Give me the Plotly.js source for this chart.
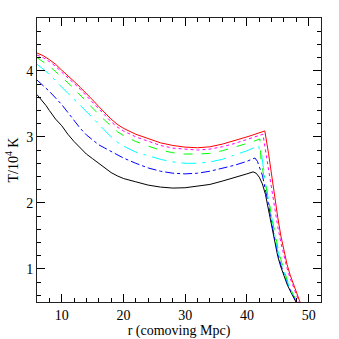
<!DOCTYPE html>
<html><head><meta charset="utf-8">
<script src="https://cdn.plot.ly/plotly-3.0.1.min.js"></script>
<style>body{margin:0;background:#fff}#c{width:339px;height:339px}</style>
</head><body><div id="c"></div>
<script>
// radius (comoving Mpc)
const rRed = [6,7,8,9,10,11,12,13,14,15,16,17,18,19,20,22,24,26,28,30,32,34,36,38,40,41,42,42.9,43.5,44,44.5,45,45.5,46,46.5,47,47.5,48,48.6];
const tRed = [4.27,4.23,4.17,4.10,4.01,3.93,3.84,3.75,3.66,3.56,3.46,3.36,3.27,3.19,3.13,3.04,2.97,2.91,2.87,2.845,2.835,2.85,2.89,2.94,3.00,3.03,3.06,3.09,2.75,2.40,2.08,1.78,1.50,1.26,1.07,0.91,0.78,0.65,0.50];

const rMag = [6,7,8,9,10,11,12,13,14,15,16,17,18,19,20,22,24,26,28,30,32,34,36,38,40,41,42,42.6,43,43.5,44,44.5,45,45.5,46,46.5,47,47.5,48,48.45];
const tMag = [4.24,4.20,4.14,4.07,3.98,3.90,3.81,3.72,3.62,3.52,3.42,3.32,3.23,3.15,3.09,3.00,2.93,2.87,2.83,2.81,2.80,2.815,2.85,2.90,2.96,2.99,3.02,3.04,2.80,2.50,2.20,1.92,1.64,1.40,1.18,1.01,0.86,0.73,0.61,0.50];

const rGrn = [6,7,8,9,10,11,12,13,14,15,16,17,18,19,20,22,24,26,28,30,32,34,36,38,40,41,42.1,42.3,43,43.5,44,44.5,45,45.5,46,46.5,47,47.5,48.3];
const tGrn = [4.20,4.14,4.07,3.99,3.91,3.82,3.73,3.63,3.54,3.44,3.34,3.25,3.16,3.08,3.02,2.93,2.86,2.80,2.76,2.74,2.74,2.75,2.79,2.84,2.90,2.93,2.97,2.62,2.32,2.06,1.80,1.55,1.33,1.14,0.98,0.84,0.72,0.61,0.50];

const rCyn = [6,7,8,9,10,11,12,13,14,15,16,17,18,19,20,22,24,26,28,30,32,34,36,38,40,41,41.9,42.1,42.4,43,43.5,44,44.5,45,45.5,46,46.5,47,47.5,48.15];
const tCyn = [4.10,4.03,3.95,3.85,3.75,3.66,3.57,3.48,3.39,3.29,3.19,3.09,3.00,2.92,2.86,2.77,2.71,2.66,2.62,2.60,2.60,2.62,2.66,2.72,2.79,2.83,2.87,2.76,2.72,2.30,2.03,1.76,1.50,1.28,1.10,0.95,0.82,0.70,0.60,0.50];

const rBlu = [6,7,8,9,10,11,12,13,14,15,16,17,18,19,20,22,24,26,28,30,32,34,36,38,40,41.3,41.7,42,42.5,43,43.5,44,44.5,45,45.5,46,46.5,47,47.5,48];
const tBlu = [3.86,3.78,3.69,3.59,3.49,3.37,3.25,3.13,3.03,2.95,2.88,2.83,2.78,2.73,2.68,2.60,2.53,2.48,2.45,2.44,2.45,2.48,2.52,2.57,2.63,2.68,2.63,2.55,2.42,2.20,1.98,1.70,1.44,1.23,1.06,0.92,0.80,0.69,0.59,0.50];

const rBlk = [6,7,7.5,8,9,10,11,12,13,14,15,16,17,18,19,20,22,24,26,28,30,32,34,36,38,40,41,41.5,42,42.5,43,43.5,44,44.5,45,45.5,46,46.5,47,47.5,48];
const tBlk = [3.64,3.53,3.47,3.40,3.27,3.17,3.04,2.93,2.83,2.74,2.67,2.60,2.53,2.46,2.41,2.37,2.32,2.27,2.24,2.225,2.23,2.25,2.28,2.33,2.38,2.44,2.47,2.45,2.39,2.29,2.13,1.90,1.63,1.39,1.19,1.03,0.89,0.77,0.67,0.58,0.49];

const xTicks = [10,20,30,40,50];
const yTicks = [1,2,3,4];

function tr(x,y,color,dash){
  return {x:x,y:y,type:'scatter',mode:'lines',line:{color:color,width:1,dash:dash},hoverinfo:'skip',showlegend:false};
}
const data = [
  tr(rBlk,tBlk,'#000000','solid'),
  tr(rBlu,tBlu,'#0000ff','dashdot'),
  tr(rCyn,tCyn,'#00ffff','longdashdot'),
  tr(rGrn,tGrn,'#00ff00','dash'),
  tr(rMag,tMag,'#ff00ff','dot'),
  tr(rRed,tRed,'#ff0000','solid')
];
const axisFont = {family:'Liberation Serif, DejaVu Serif, serif', size:14, color:'#000'};
const layout = {
  width:339, height:339,
  margin:{l:37,r:18,t:18,b:37},
  paper_bgcolor:'#fff', plot_bgcolor:'#fff',
  font: axisFont,
  xaxis:{range:[6,52], tickvals:xTicks, ticks:'inside', ticklen:8, tickwidth:1, tickcolor:'#000',
    showline:true, linecolor:'#222', linewidth:1, mirror:'ticks', showgrid:false, zeroline:false,
    minor:{dtick:2, tick0:0, ticks:'inside', ticklen:4, tickcolor:'#000', showgrid:false},
    tickfont:axisFont,
    title:{text:'r (comoving Mpc)', font:axisFont, standoff:4}},
  yaxis:{range:[0.5,4.8], tickvals:yTicks, ticks:'inside', ticklen:8, tickwidth:1, tickcolor:'#000',
    showline:true, linecolor:'#222', linewidth:1, mirror:'ticks', showgrid:false, zeroline:false,
    minor:{dtick:0.2, tick0:0, ticks:'inside', ticklen:4, tickcolor:'#000', showgrid:false},
    tickfont:axisFont,
    title:{text:'T/10<sup>4</sup> K', font:axisFont, standoff:4}}
};
Plotly.newPlot('c', data, layout, {staticPlot:true, displayModeBar:false});
</script></body></html>
